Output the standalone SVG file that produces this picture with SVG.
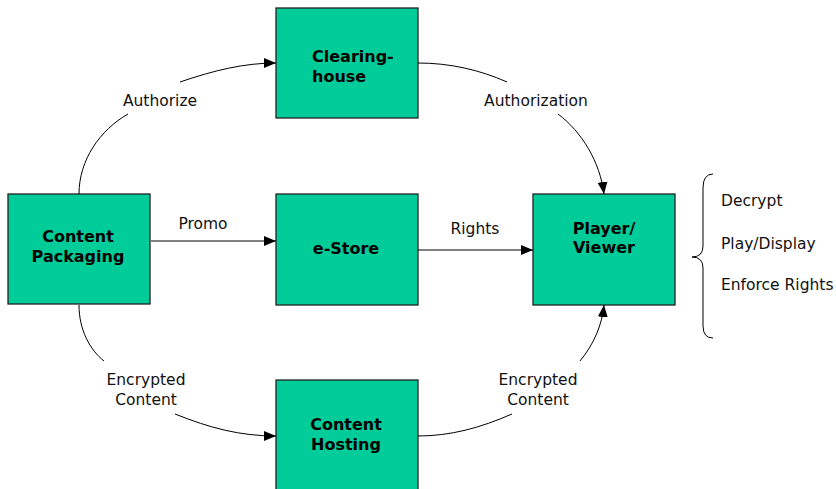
<svg xmlns="http://www.w3.org/2000/svg" width="836" height="489" viewBox="0 0 836 489">
<style>
.box{fill:#00CC99;stroke:#222;stroke-width:1.3}
.bl{font-family:"DejaVu Sans",Verdana,sans-serif;font-weight:bold;font-size:16px;fill:#000}
.lb{font-family:"DejaVu Sans",Verdana,sans-serif;font-size:15.5px;fill:#111}
.c{fill:none;stroke:#000;stroke-width:1}
</style>
<defs>
<marker id="ah" markerUnits="userSpaceOnUse" markerWidth="12" markerHeight="12" viewBox="0 0 12 12" refX="12" refY="6" orient="auto">
<path d="M0,1 L12,6 L0,11 Z" fill="#000"/>
</marker>
</defs>
<rect width="836" height="489" fill="#fff"/>
<g id="clearinghouse"><rect class="box" x="276" y="8" width="142" height="110"/><text class="bl" x="312" y="62">Clearing-</text><text class="bl" x="312" y="82">house</text></g>
<g id="content-packaging"><rect class="box" x="8" y="194" width="142" height="110"/><text class="bl" x="78" y="242" text-anchor="middle">Content</text><text class="bl" x="78" y="262" text-anchor="middle">Packaging</text></g>
<g id="estore"><rect class="box" x="276" y="194" width="142" height="111"/><text class="bl" x="346" y="254" text-anchor="middle">e-Store</text></g>
<g id="player-viewer"><rect class="box" x="533" y="194" width="142" height="111"/><text class="bl" x="604" y="234" text-anchor="middle">Player/</text><text class="bl" x="604" y="253" text-anchor="middle">Viewer</text></g>
<g id="content-hosting"><rect class="box" x="276" y="380" width="142" height="112"/><text class="bl" x="346" y="430" text-anchor="middle">Content</text><text class="bl" x="346" y="450" text-anchor="middle">Hosting</text></g>
<g id="connectors">
<path class="c" d="M79,194 C79,160 100,130 128,114"/>
<path class="c" d="M180,82 C215,70 245,63 276,63" marker-end="url(#ah)"/>
<text class="lb" x="160" y="106" text-anchor="middle">Authorize</text>
<path class="c" d="M418,63 C450,63 480,70 507,82"/>
<path class="c" d="M558,114 C582,132 600,162 604,194" marker-end="url(#ah)"/>
<text class="lb" x="536" y="106" text-anchor="middle">Authorization</text>
<path class="c" d="M151,241 L276,241" marker-end="url(#ah)"/>
<text class="lb" x="203" y="229" text-anchor="middle">Promo</text>
<path class="c" d="M418,250 L533,250" marker-end="url(#ah)"/>
<text class="lb" x="475" y="234" text-anchor="middle">Rights</text>
<path class="c" d="M79,305 C79,330 90,350 104,361"/>
<path class="c" d="M175,414 C210,428 240,436 276,436" marker-end="url(#ah)"/>
<text class="lb" x="146" y="385" text-anchor="middle">Encrypted</text>
<text class="lb" x="146" y="405" text-anchor="middle">Content</text>
<path class="c" d="M418,436 C450,436 480,428 512,414"/>
<path class="c" d="M580,361 C594,344 602,325 604,305" marker-end="url(#ah)"/>
<text class="lb" x="538" y="385" text-anchor="middle">Encrypted</text>
<text class="lb" x="538" y="405" text-anchor="middle">Content</text>
</g>
<g id="functions">
<path class="c" d="M713,174 Q703,174 703,188 L703,246 Q703,257 692,257 Q703,257 703,268 L703,326 Q703,338 713,338"/>
<text class="lb" x="721" y="206">Decrypt</text>
<text class="lb" x="721" y="249">Play/Display</text>
<text class="lb" x="721" y="290">Enforce Rights</text>
</g>
</svg>
